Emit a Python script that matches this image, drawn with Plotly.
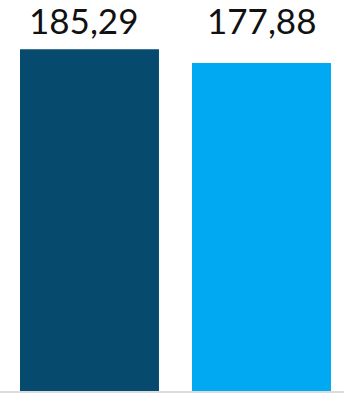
import plotly.graph_objects as go

categories = ["A", "B"]
values = [185.29, 177.88]
labels = ["185,29", "177,88"]
colors = ["#064a6d", "#00a9f1"]

label_xshift = [-6, 0]

fig = go.Figure()
fig.add_trace(go.Bar(x=categories, y=values, marker=dict(color=colors, line=dict(width=0)),
                     hoverinfo="skip"))
for c, t, dx in zip(categories, labels, label_xshift):
    fig.add_annotation(x=c, y=1, yref="paper", text=t, showarrow=False, yanchor="top",
                       yshift=3, xshift=dx,
                       font=dict(family="Lato", size=35, color="#111111"))

fig.update_layout(
    width=344, height=396,
    margin=dict(l=0, r=0, t=0, b=5),
    paper_bgcolor="white", plot_bgcolor="white",
    bargap=0.192,
    showlegend=False,
    xaxis=dict(range=[-0.5203, 1.4797], showticklabels=False, showgrid=False, zeroline=False,
               showline=True, linecolor="#dcdcdc", linewidth=2, ticks="", fixedrange=True),
    yaxis=dict(range=[0, 212], showticklabels=False, showgrid=False, zeroline=False,
               visible=False, fixedrange=True),
)
fig.write_html("out.html", config={"displayModeBar": False},
               post_script="document.body.style.margin='0';document.body.style.overflow='hidden';")
